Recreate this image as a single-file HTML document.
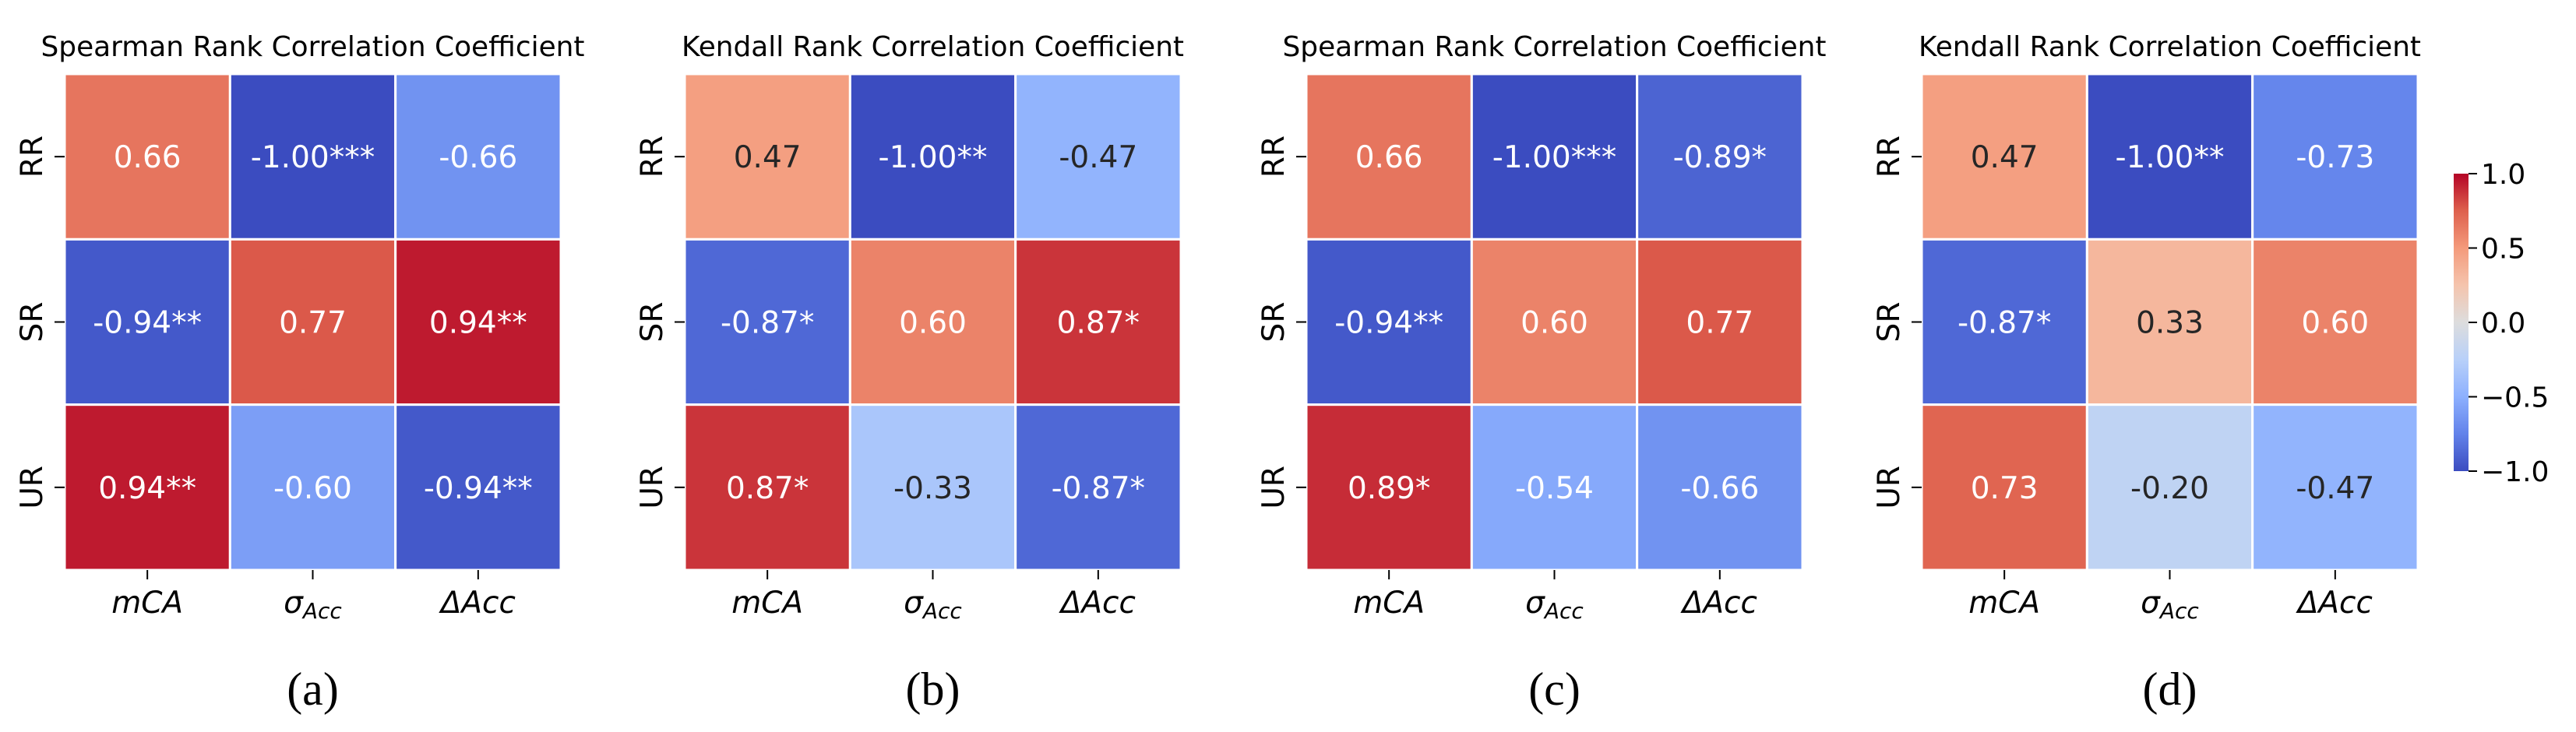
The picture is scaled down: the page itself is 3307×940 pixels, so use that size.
<!DOCTYPE html>
<html><head><meta charset="utf-8"><style>
body{margin:0;background:#fff}
svg{display:block}
text{font-family:"DejaVu Sans","Liberation Sans",sans-serif}
</style></head><body>
<svg id="fig" width="3307" height="940" viewBox="0 0 3307 940" xmlns="http://www.w3.org/2000/svg"></svg>
<script>
const rowLabels = ["RR","SR","UR"];
const titles = ["Spearman Rank Correlation Coefficient","Kendall Rank Correlation Coefficient","Spearman Rank Correlation Coefficient","Kendall Rank Correlation Coefficient"];
const panelTags = ["(a)","(b)","(c)","(d)"];
const valuesA = [[0.66,-1.00,-0.66],[-0.94,0.77,0.94],[0.94,-0.60,-0.94]];
const starsA = [["","***",""],["**","","**"],["**","","**"]];
const valuesB = [[0.47,-1.00,-0.47],[-0.87,0.60,0.87],[0.87,-0.33,-0.87]];
const starsB = [["","**",""],["*","","*"],["*","","*"]];
const valuesC = [[0.66,-1.00,-0.89],[-0.94,0.60,0.77],[0.89,-0.54,-0.66]];
const starsC = [["","***","*"],["**","",""],["*","",""]];
const valuesD = [[0.47,-1.00,-0.73],[-0.87,0.33,0.60],[0.73,-0.20,-0.47]];
const starsD = [["","**",""],["*","",""],["","",""]];
const cbTicks = [1.0,0.5,0.0,-0.5,-1.0];
const cbTickLabels = ["1.0","0.5","0.0","\u22120.5","\u22121.0"];

const panels=[valuesA,valuesB,valuesC,valuesD];
const starsAll=[starsA,starsB,starsC,starsD];
const lefts=[83,879,1677,2467];
const titleW=[698,645,698,645];
const TOP=95, W=637, H=637, cw=W/3, ch=H/3;
const NS="http://www.w3.org/2000/svg";
const svg=document.getElementById('fig');
const cm=[[59,76,192],[98,130,234],[141,176,254],[184,208,249],[221,221,221],[245,196,173],[244,154,123],[222,96,77],[180,4,38]];
function cmap(v){let t=(v+1)/2;t=Math.max(0,Math.min(1,t));const p=t*8;const i=Math.min(7,Math.floor(p));const f=p-i;
 return cm[i].map((c,k)=>Math.round(c+(cm[i+1][k]-c)*f));}
function lum(rgb){const l=rgb.map(c=>{c/=255;return c<=0.03928?c/12.92:Math.pow((c+0.055)/1.055,2.4)});return 0.2126*l[0]+0.7152*l[1]+0.0722*l[2];}
function el(tag,attrs,txt){const e=document.createElementNS(NS,tag);for(const k in attrs)e.setAttribute(k,attrs[k]);if(txt!==undefined)e.textContent=txt;svg.appendChild(e);return e;}
function xs(c,L){return L+c*cw;}
function ys(r){return TOP+r*ch;}

panels.forEach((vals,p)=>{
 const L=lefts[p];
 const t=el('text',{x:L+W/2,y:72,'text-anchor':'middle','font-size':36,textLength:titleW[p],lengthAdjust:'spacingAndGlyphs',fill:'#000'},titles[p]);
 
 
 vals.forEach((row,r)=>row.forEach((v,c)=>{
  const rgb=cmap(v);
  const rc=el('rect',{x:xs(c,L),y:ys(r),width:cw,height:ch,fill:`rgb(${rgb})`,stroke:'#fff','stroke-width':3});
  
  
  const tx=el('text',{x:xs(c,L)+cw/2,y:ys(r)+ch/2+14,'text-anchor':'middle','font-size':39,fill:lum(rgb)>0.408?'#262626':'#fff'},v.toFixed(2)+starsAll[p][r][c]);
  
  
 }));
 rowLabels.forEach((lab,r)=>{
  const yc=ys(r)+ch/2;
  el('line',{x1:L-13,x2:L,y1:yc,y2:yc,stroke:'#000','stroke-width':2});
  const t2=el('text',{x:L-29,y:yc,'text-anchor':'middle','font-size':39,transform:`rotate(-90 ${L-29} ${yc})`,fill:'#000'},lab);
  
  
 });
 const xl=[["mCA",""],["\u03c3","Acc"],["\u0394Acc",""]];
 for(let c=0;c<3;c++){
  const xc=xs(c,L)+cw/2;
  el('line',{x1:xc,x2:xc,y1:TOP+H,y2:TOP+H+12,stroke:'#000','stroke-width':2});
  const t3=el('text',{x:xc,y:787,'text-anchor':'middle','font-size':39,'font-style':'italic',fill:'#000'});
  
  
  const a=document.createElementNS(NS,'tspan');a.textContent=xl[c][0];t3.appendChild(a);
  if(xl[c][1]){const b=document.createElementNS(NS,'tspan');b.setAttribute('font-size',28);b.setAttribute('dy',7);b.textContent=xl[c][1];t3.appendChild(b);}
 }
 const tg=el('text',{x:L+W/2,y:905,'text-anchor':'middle','font-size':60,fill:'#000',style:'font-family:"Liberation Serif",serif'},panelTags[p]);
 
 
});

const defs=el('defs',{});
const g=document.createElementNS(NS,'linearGradient');g.setAttribute('id','cw');g.setAttribute('x1',0);g.setAttribute('y1',1);g.setAttribute('x2',0);g.setAttribute('y2',0);defs.appendChild(g);
cm.forEach((c,i)=>{const s=document.createElementNS(NS,'stop');s.setAttribute('offset',i/8);s.setAttribute('stop-color',`rgb(${c})`);g.appendChild(s);});
const CBT=223, CBB=605, CBL=3150, CBW=19;
const cb=el('rect',{x:CBL,y:CBT,width:CBW,height:CBB-CBT,fill:'url(#cw)'});


function cy(v){return CBB-(v+1)/2*(CBB-CBT);}
cbTicks.forEach((v,i)=>{
 el('line',{x1:CBL+CBW,x2:CBL+CBW+11,y1:cy(v),y2:cy(v),stroke:'#000','stroke-width':2});
 const t=el('text',{x:CBL+CBW+16,y:cy(v)+13,'font-size':36,fill:'#000'},cbTickLabels[i]);
 
 
});
</script>
</body></html>
